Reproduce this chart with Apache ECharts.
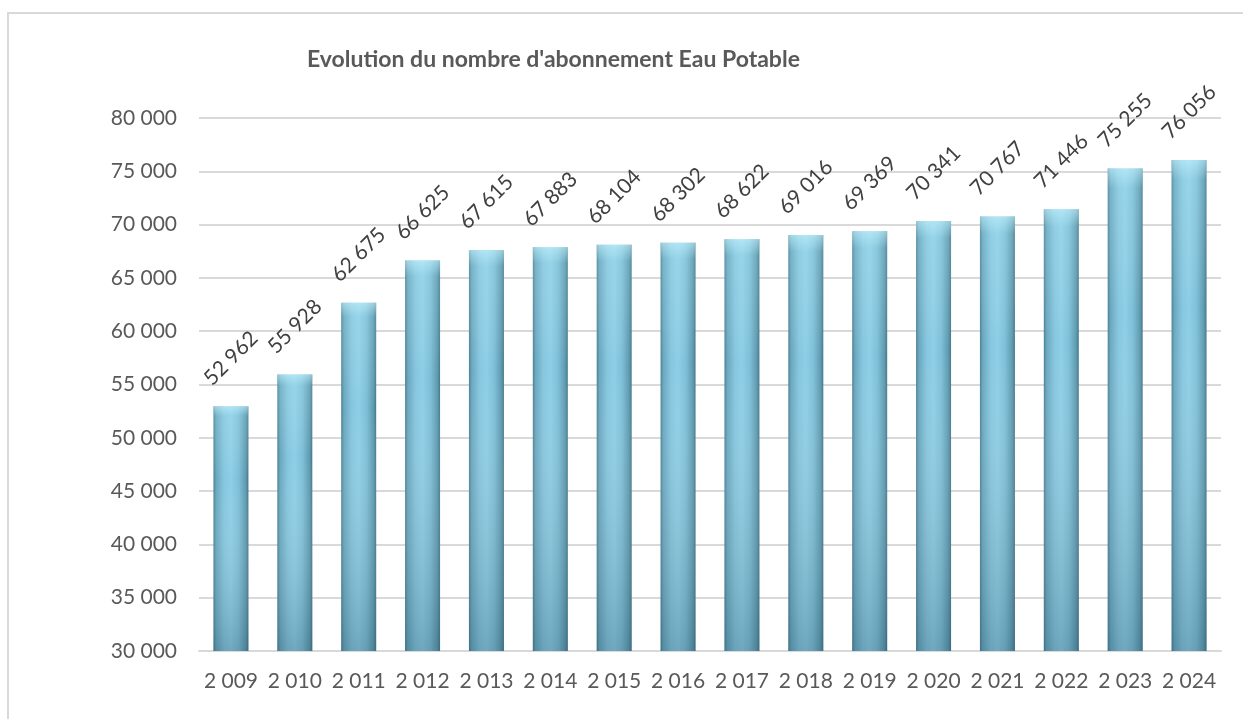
<!DOCTYPE html>
<html>
<head>
<meta charset="utf-8">
<script src="https://cdn.jsdelivr.net/npm/echarts@6/dist/echarts.min.js"></script>
<style>
  html, body { margin: 0; padding: 0; background: #fff; overflow: hidden; }
  .frame {
    position: absolute; left: 7px; top: 12px;
    width: 1300px; height: 800px;
    border: 2px solid #d9d9d9;
  }
  #chart { position: absolute; left: 0; top: 0; width: 1243px; height: 719px; }
</style>
</head>
<body>
<div class="frame"></div>
<div id="chart"></div>
<script>
// données
var annees = ['2 009', '2 010', '2 011', '2 012', '2 013', '2 014', '2 015', '2 016',
  '2 017', '2 018', '2 019', '2 020', '2 021', '2 022', '2 023', '2 024'];
var abonnements = [52962, 55928, 62675, 66625, 67615, 67883, 68104, 68302,
  68622, 69016, 69369, 70341, 70767, 71446, 75255, 76056];

var FONT = 'Lato, "Open Sans", sans-serif';

function fmt(v) {
  return String(v).replace(/\B(?=(\d{3})+(?!\d))/g, ' ');
}

var chart = echarts.init(document.getElementById('chart'));

var options = {
  backgroundColor: 'transparent',
  animation: false,
  title: {
    text: "Evolution du nombre d'abonnement Eau Potable",
    left: 302,
    top: 43,
    textStyle: {
      color: '#595959',
      fontFamily: FONT,
      fontWeight: 'bold',
      fontSize: 23
    }
  },
  grid: { left: 199, right: 22, top: 118, bottom: 68 },
  xAxis: {
    type: 'category',
    data: annees,
    axisTick: { show: false },
    axisLine: { lineStyle: { color: '#d9d9d9', width: 2 } },
    axisLabel: {
      color: '#595959',
      fontFamily: FONT,
      fontSize: 21,
      margin: 20,
      interval: 0
    }
  },
  yAxis: {
    type: 'value',
    min: 30000,
    max: 80000,
    interval: 5000,
    axisLine: { show: false },
    axisTick: { show: false },
    axisLabel: {
      color: '#595959',
      fontFamily: FONT,
      fontSize: 21,
      margin: 22,
      formatter: fmt
    },
    splitLine: { lineStyle: { color: '#d9d9d9', width: 2 } }
  },
  series: [
    {
      type: 'bar',
      data: abonnements,
      barWidth: 35,
      itemStyle: {
        color: new echarts.graphic.LinearGradient(0, 0, 1, 0, [
          { offset: 0, color: '#4a8194' },
          { offset: 0.08, color: '#6aa8bf' },
          { offset: 0.3, color: '#86c6de' },
          { offset: 0.5, color: '#8dcfe6' },
          { offset: 0.72, color: '#7fbfd7' },
          { offset: 0.92, color: '#5e9bb1' },
          { offset: 1, color: '#44788b' }
        ])
      },
      label: {
        show: true,
        position: 'top',
        distance: 48,
        rotate: 45,
        align: 'center',
        verticalAlign: 'middle',
        color: '#404040',
        fontFamily: FONT,
        fontSize: 21,
        formatter: function (p) { return fmt(p.value); }
      },
      z: 2
    },
    {
      // ombrage vertical du cylindre
      type: 'bar',
      data: abonnements,
      barWidth: 35,
      barGap: '-100%',
      silent: true,
      itemStyle: {
        color: new echarts.graphic.LinearGradient(0, 0, 0, 1, [
          { offset: 0, color: 'rgba(200,245,255,0.6)' },
          { offset: 0.04, color: 'rgba(200,245,255,0.15)' },
          { offset: 0.3, color: 'rgba(255,255,255,0)' },
          { offset: 1, color: 'rgba(30,70,90,0.28)' }
        ])
      },
      z: 3
    }
  ]
};

chart.setOption(options);
</script>
</body>
</html>
